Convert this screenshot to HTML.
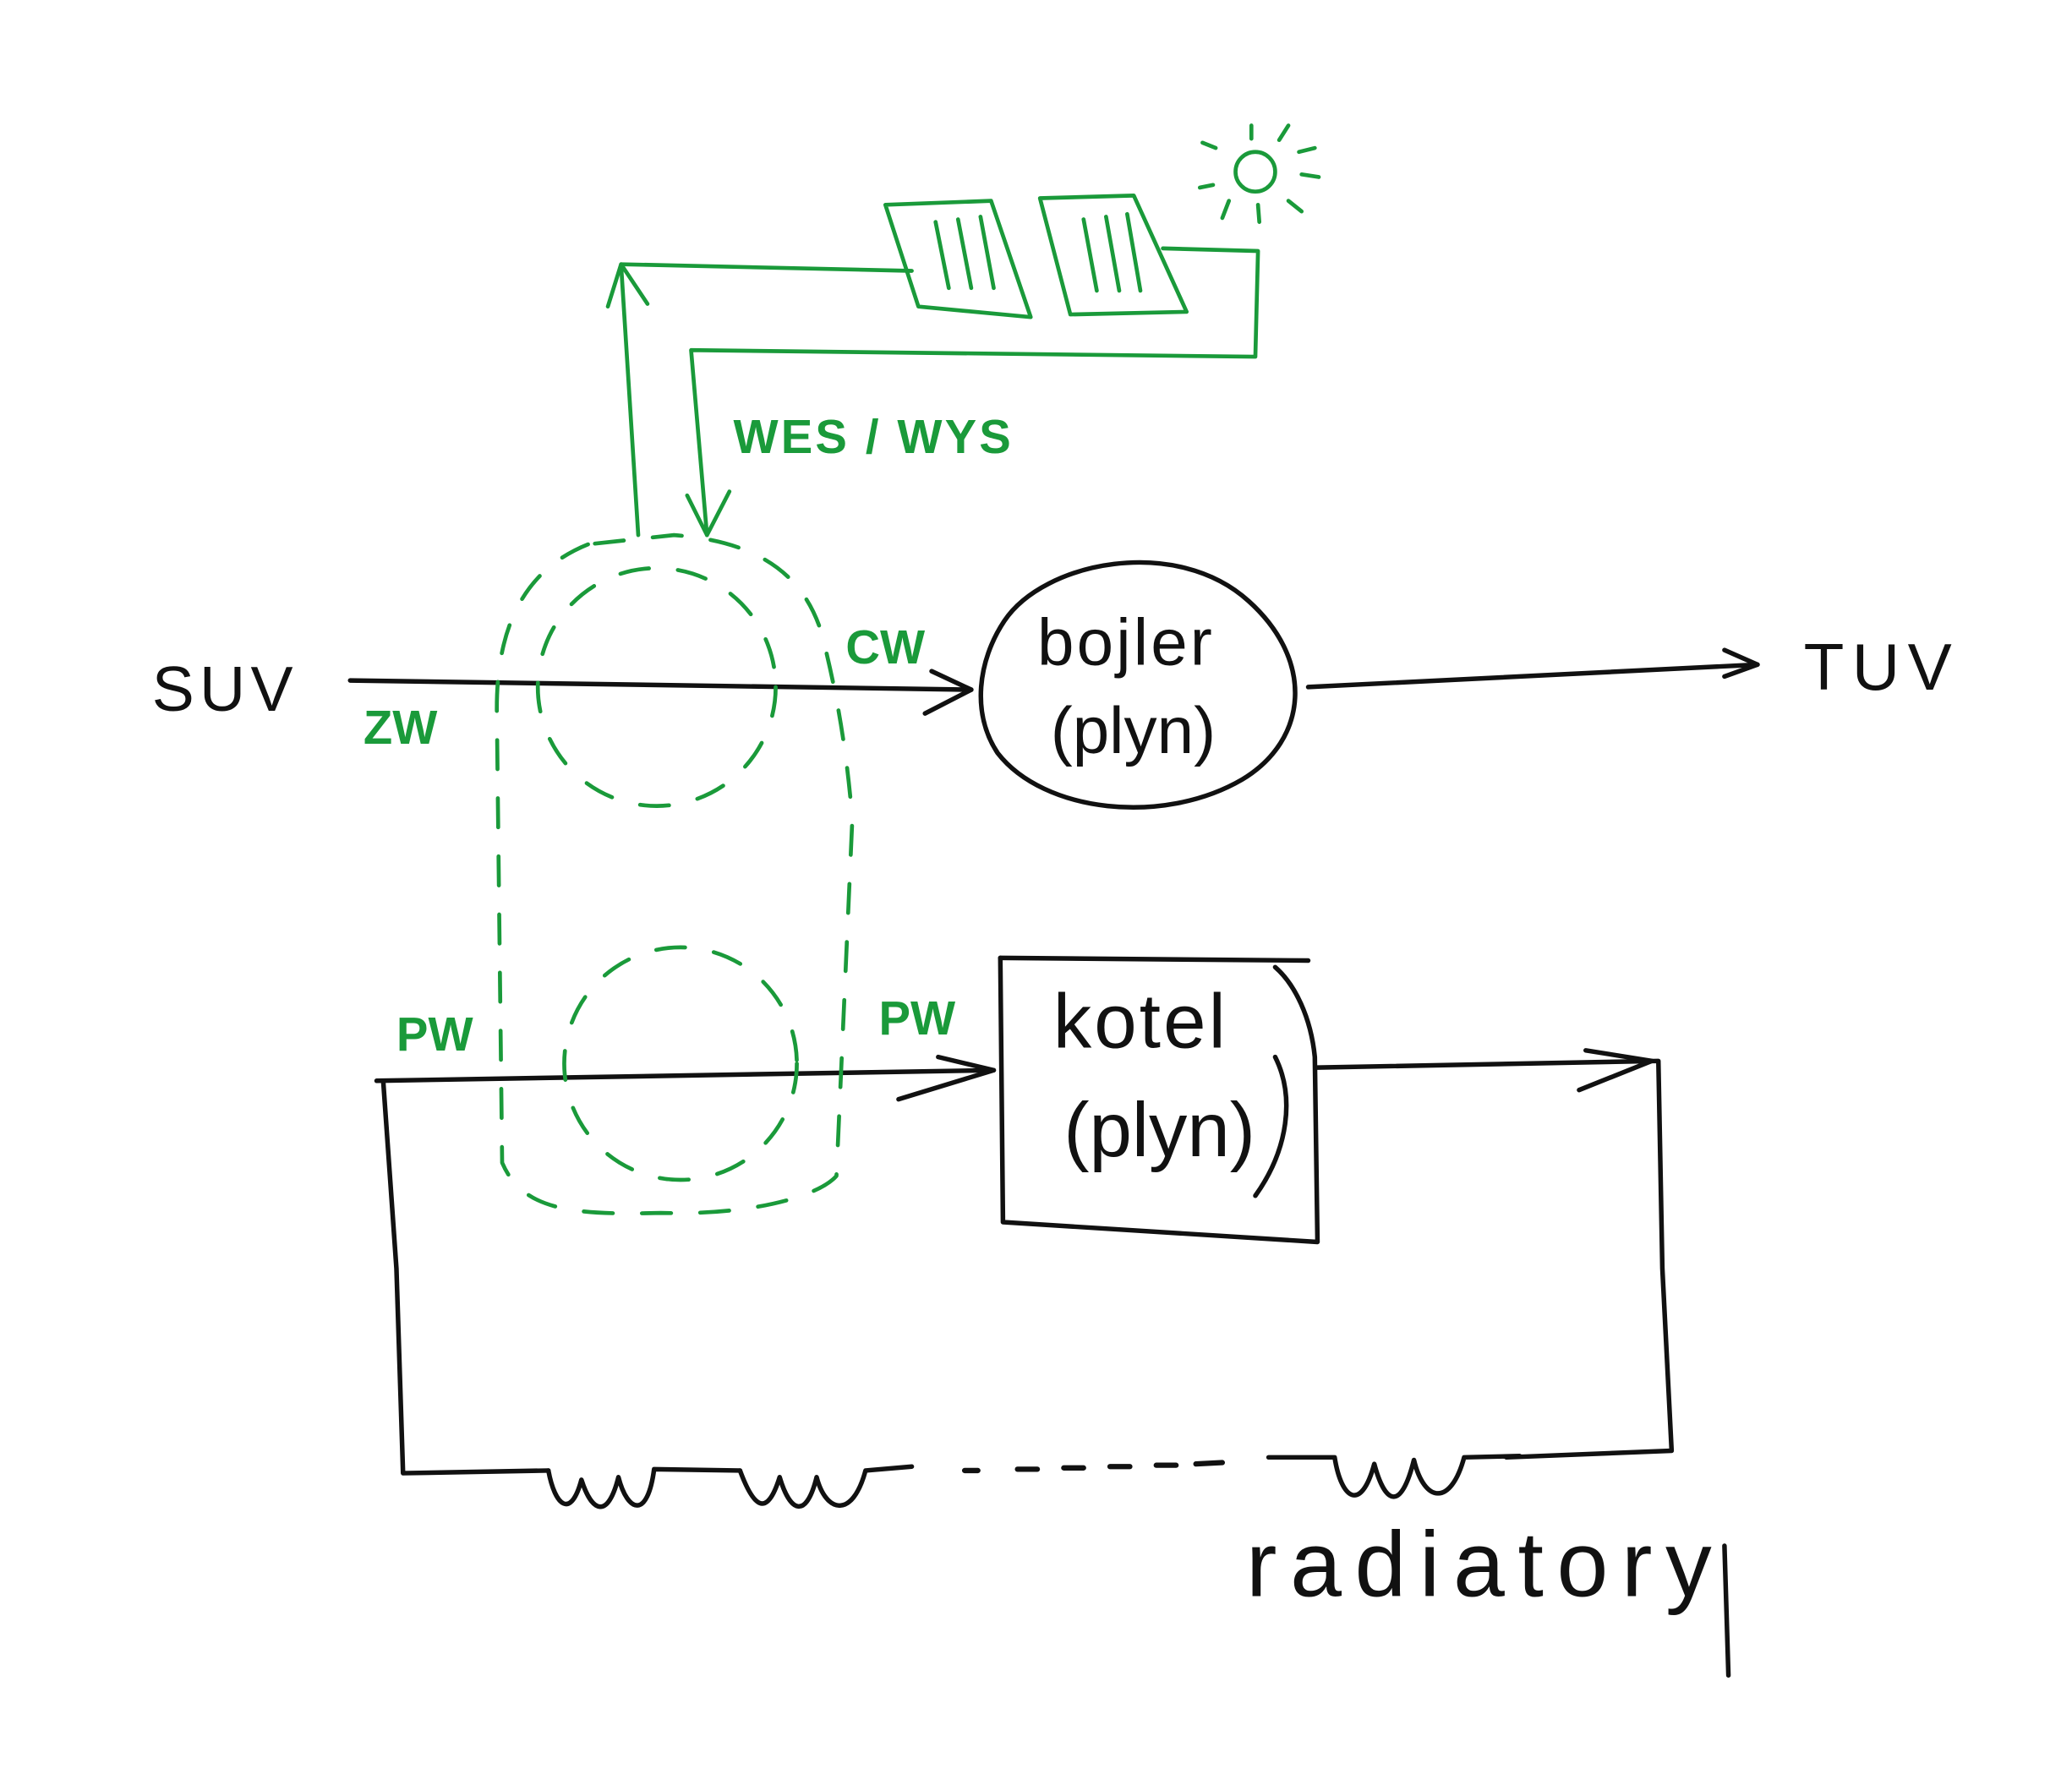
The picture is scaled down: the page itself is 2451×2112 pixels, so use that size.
<!DOCTYPE html>
<html><head><meta charset="utf-8"><style>
html,body{margin:0;padding:0;background:#fff}
svg{display:block}
text{font-family:"Liberation Sans",sans-serif}
</style></head><body>
<svg width="2451" height="2112" viewBox="0 0 1568 1351" preserveAspectRatio="none" xmlns="http://www.w3.org/2000/svg">
<rect width="1568" height="1351" fill="#fff"/>
<g fill="none" stroke="#111" stroke-width="3.5" stroke-linecap="round" stroke-linejoin="round">
 <path d="M265 515 L735 522"/>
 <path d="M705 508 L735 522 L700 540"/>
 <path d="M760 470 C790 425 890 405 945 455 C995 500 990 560 940 590 C880 625 790 615 755 570 C735 540 740 500 760 470 Z"/>
 <path d="M990 520 L1330 503"/>
 <path d="M1305 492 L1330 503 L1305 512"/>
 <path d="M757 725 L990 727"/>
 <path d="M757 725 L759 925 L997 940 L995 800 C992 770 980 745 965 732"/>
 <path d="M950 905 C975 870 980 830 965 800"/>
 <path d="M285 818 L752 810"/>
 <path d="M680 832 L752 810 L710 800"/>
 <path d="M997 808 L1255 803 L1258 960 L1265 1098 L1140 1103"/>
 <path d="M1195 825 L1250 803 L1200 795"/>
 <path d="M290 818 L300 960 L305 1115 L415 1113"/>
 <path d="M415 1113 C420 1140 432 1150 440 1120 C448 1145 460 1150 468 1118 C475 1145 490 1150 495 1112 L560 1113"/>
 <path d="M560 1113 C570 1140 580 1150 590 1118 C598 1145 610 1150 618 1118 C625 1145 645 1150 655 1113 L690 1110"/>
 <path d="M960 1103 L1010 1103 C1015 1135 1030 1145 1040 1108 C1048 1138 1060 1145 1070 1105 C1078 1138 1098 1140 1108 1103 L1150 1102"/>
 <path d="M730 1113 L740 1113 M770 1112 L785 1112 M805 1111 L820 1111 M840 1110 L855 1110 M875 1109 L890 1109 M905 1108 L925 1107" stroke-width="4"/>
 <path d="M1305 1170 L1308 1268"/>
</g>
<g fill="#111">
 <text x="115" y="538" font-size="48" letter-spacing="4">SUV</text>
 <text x="1365" y="522" font-size="50" letter-spacing="6">TUV</text>
 <text x="785" y="503" font-size="50" letter-spacing="2">bojler</text>
 <text x="795" y="570" font-size="50">(plyn)</text>
 <text x="797" y="793" font-size="58" letter-spacing="2">kotel</text>
 <text x="805" y="875" font-size="58">(plyn)</text>
 <text x="943" y="1208" font-size="70" letter-spacing="10">radiatory</text>
</g>
<g fill="none" stroke="#1a9a3a" stroke-width="3" stroke-linecap="round" stroke-linejoin="round">
 <path d="M445 412 C400 430 375 470 376 540 L380 880 C395 915 430 920 500 918 C570 920 620 905 633 890 L645 620 C640 560 632 520 622 480 C610 440 580 410 510 405 Z" stroke-dasharray="22 22"/>
 <circle cx="497" cy="520" r="90" stroke-dasharray="22 22"/>
 <circle cx="515" cy="805" r="88" stroke-dasharray="22 22"/>
 <path d="M483 405 L470 200 L690 205"/>
 <path d="M460 232 L470 200 L490 230"/>
 <path d="M880 188 L952 190 L950 270 L523 265 L535 405"/>
 <path d="M520 375 L535 405 L552 372"/>
 <path d="M670 155 L750 152 L780 240 L695 232 Z"/>
 <path d="M708 168 L718 218 M725 166 L735 218 M742 164 L752 218"/>
 <path d="M787 150 L858 148 L898 236 L810 238 Z"/>
 <path d="M820 166 L830 220 M837 164 L847 220 M853 162 L863 220"/>
 <circle cx="950" cy="130" r="15"/>
 <path d="M947 95 L947 105 M975 95 L968 106 M983 115 L995 112 M985 132 L998 134 M975 152 L985 160 M952 155 L953 168 M930 152 L925 165 M918 140 L908 142 M920 112 L910 108"/>
</g>
<g fill="#1a9a3a" font-size="36" font-weight="bold">
 <text x="555" y="343" letter-spacing="2">WES / WYS</text>
 <text x="640" y="502">CW</text>
 <text x="275" y="563">ZW</text>
 <text x="300" y="795">PW</text>
 <text x="665" y="783">PW</text>
</g>
</svg>
</body></html>
